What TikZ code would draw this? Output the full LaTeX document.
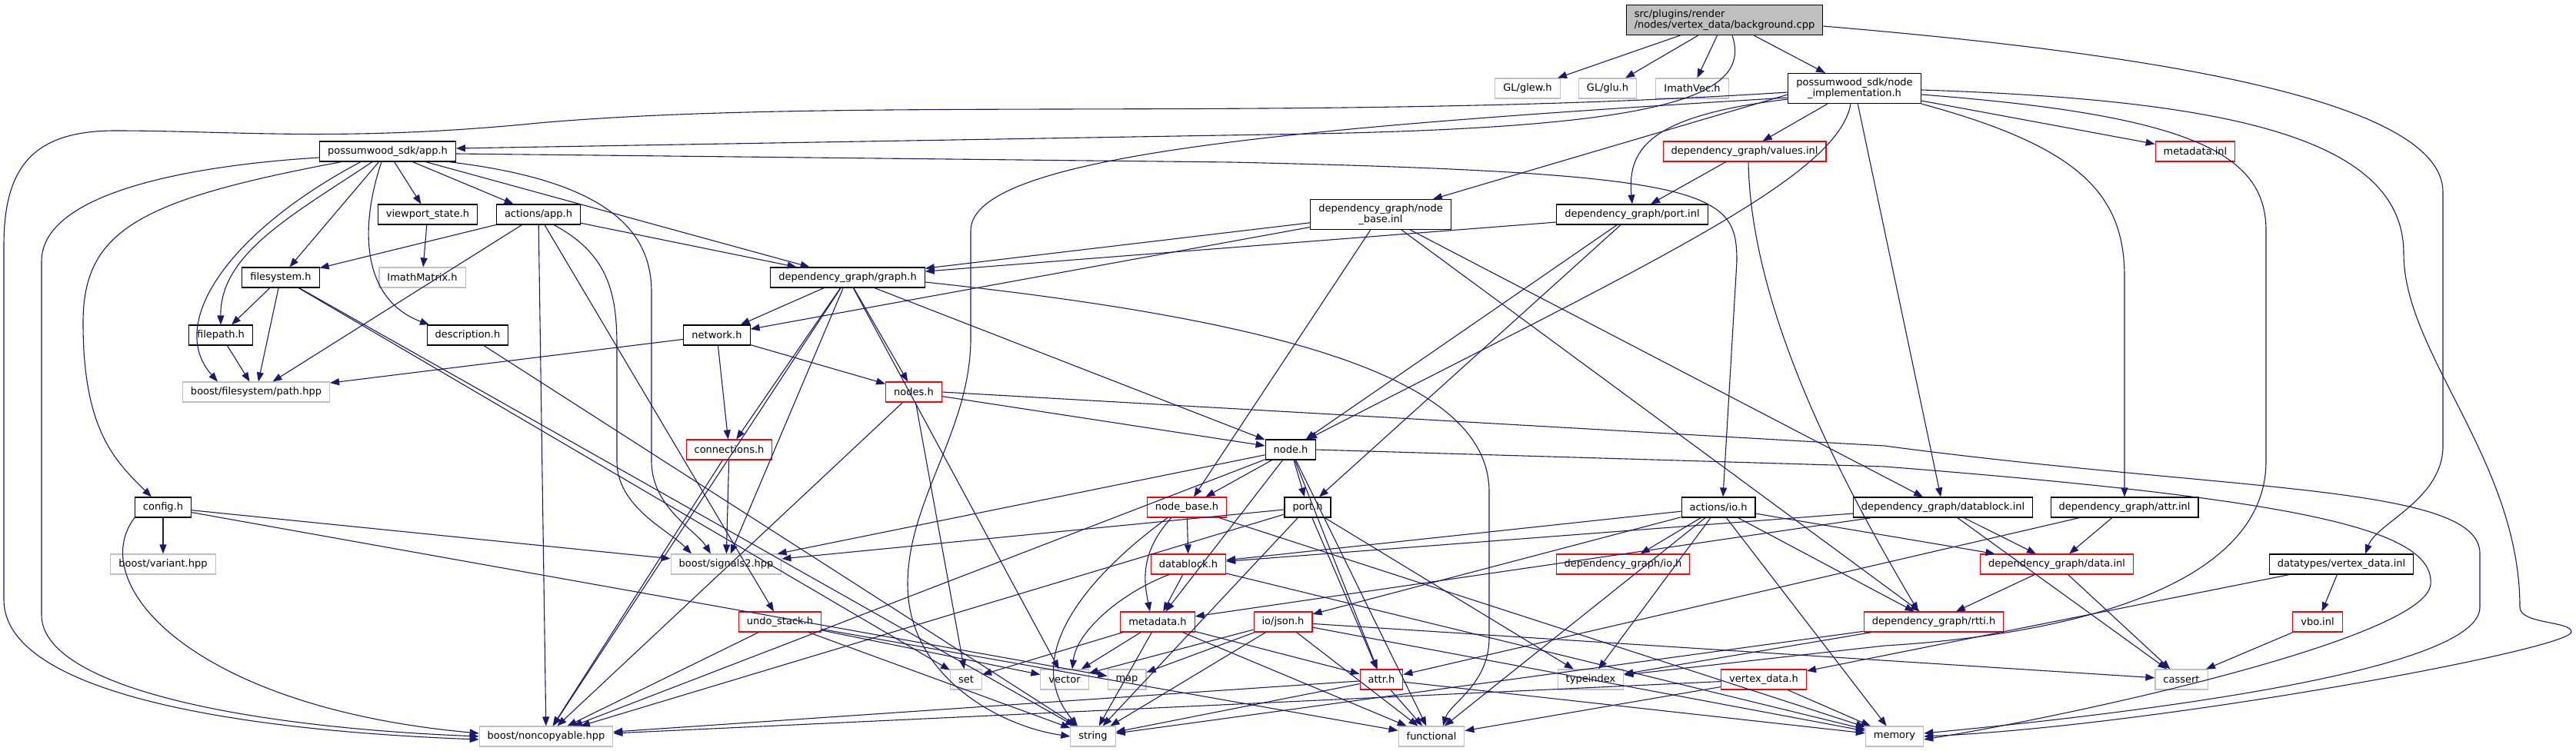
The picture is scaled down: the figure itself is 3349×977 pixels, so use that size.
\documentclass[tikz,border=0pt]{standalone}
\usepackage{fontspec}
\setmainfont{DejaVu Sans}
\usetikzlibrary{arrows.meta}
\definecolor{Edge}{HTML}{191970}
\definecolor{Frame}{HTML}{BFBFBF}
\definecolor{Trunc}{HTML}{FF0000}
\definecolor{MainFill}{HTML}{BFBFBF}

\begin{document}
\begin{tikzpicture}[x=1pt, y=-1pt, every node/.style={font=\fontsize{13}{14}\selectfont}]
        \tikzstyle{file}=[draw=black, fill=white, line width=1.1pt, inner xsep=10.5pt, inner ysep=6pt, minimum height=26pt, align=center]
        \tikzstyle{ext}=[file, draw=Frame]
        \tikzstyle{trunc}=[file, draw=Trunc]
        \tikzstyle{main}=[file, fill=MainFill, align=left]
        \tikzstyle{dep}=[draw=Edge, line width=1.1pt, -{Triangle[length=12pt, width=9pt]}]
        \useasboundingbox (0,0) rectangle (3349,977);
        \node[main] (bg) at (2242,26) {src/plugins/render\\/nodes/vertex\_data/background.cpp};
        \node[ext] (glew) at (1986,115) {GL/glew.h};
        \node[ext] (glu) at (2090,115) {GL/glu.h};
        \node[ext] (ivec) at (2200,115) {ImathVec.h};
        \node[file] (impl) at (2411,115) {possumwood\_sdk/node\\\_implementation.h};
        \node[file] (apph) at (504,197) {possumwood\_sdk/app.h};
        \node[trunc] (valinl) at (2268,197) {dependency\_graph/values.inl};
        \node[trunc] (mdinl) at (2854,197) {metadata.inl};
        \node[file] (vps) at (556,279) {viewport\_state.h};
        \node[file] (actapp) at (700,279) {actions/app.h};
        \node[file] (nbinl) at (1795,279) {dependency\_graph/node\\\_base.inl};
        \node[file] (portinl) at (2122,279) {dependency\_graph/port.inl};
        \node[file] (fsys) at (365,361) {filesystem.h};
        \node[ext] (imat) at (549,361) {ImathMatrix.h};
        \node[file] (graph) at (1102,361) {dependency\_graph/graph.h};
        \node[file] (fpath) at (287,436) {filepath.h};
        \node[file] (descr) at (608,436) {description.h};
        \node[file] (network) at (932,436) {network.h};
        \node[ext] (pathhpp) at (333,510) {boost/filesystem/path.hpp};
        \node[trunc] (nodes) at (1188,510) {nodes.h};
        \node[trunc] (conn) at (948,585) {connections.h};
        \node[file] (nodeh) at (1678,585) {node.h};
        \node[file] (config) at (212,660) {config.h};
        \node[trunc] (nbase) at (1543,660) {node\_base.h};
        \node[file] (porth) at (1700,660) {port.h};
        \node[file] (actio) at (2234,660) {actions/io.h};
        \node[file] (dbinl) at (2526,660) {dependency\_graph/datablock.inl};
        \node[file] (attrinl) at (2762,660) {dependency\_graph/attr.inl};
        \node[ext] (variant) at (212,734) {boost/variant.hpp};
        \node[ext] (sig) at (944,734) {boost/signals2.hpp};
        \node[trunc] (dblock) at (1545,734) {datablock.h};
        \node[trunc] (dgio) at (2110,734) {dependency\_graph/io.h};
        \node[trunc] (datainl) at (2674,734) {dependency\_graph/data.inl};
        \node[file] (vdinl) at (3044,734) {datatypes/vertex\_data.inl};
        \node[trunc] (undo) at (1014,809) {undo\_stack.h};
        \node[trunc] (meta) at (1505,809) {metadata.h};
        \node[trunc] (json) at (1668,809) {io/json.h};
        \node[trunc] (rtti) at (2514,809) {dependency\_graph/rtti.h};
        \node[trunc] (vbo) at (3013,809) {vbo.inl};
        \node[ext] (setn) at (1256,884) {set};
        \node[ext] (vec) at (1384,884) {vector};
        \node[ext] (mapn) at (1465,884) {map};
        \node[trunc] (attrh) at (1796,884) {attr.h};
        \node[ext] (tindex) at (2068,884) {typeindex};
        \node[trunc] (vdh) at (2293,884) {vertex\_data.h};
        \node[ext] (cassert) at (2836,884) {cassert};
        \node[ext] (noncp) at (710,958) {boost/noncopyable.hpp};
        \node[ext] (str) at (1421,958) {string};
        \node[ext] (func) at (1861,958) {functional};
        \node[ext] (mem) at (2463,958) {memory};
        \draw[dep] (bg) -- (glew);
        \draw[dep] (bg) -- (glu);
        \draw[dep] (bg) -- (ivec);
        \draw[dep] (bg) -- (impl);
        \draw[dep] ([yshift=-8pt]bg.east) .. controls (2800,70) and (3176,130) .. (3176,250) -- (3176,580) .. controls (3176,650) and (3090,680) .. ([xshift=31pt]vdinl.north);
        \draw[dep] ([xshift=10pt]bg.south) .. controls (2280,130) and (2150,168) .. (1650,175) -- ([yshift=4pt]apph.east);
        \draw[dep] ([yshift=-5pt]impl.west) .. controls (1700,160) and (1100,125) .. (700,160) .. controls (450,185) and (300,170) .. (150,170) .. controls (40,170) and (5,220) .. (5,320) -- (5,780) .. controls (5,900) and (300,950) .. ([yshift=-4pt]noncp.west);
        \draw[dep] ([yshift=-12pt]impl.west) .. controls (1700,165) and (1262,200) .. (1262,300) -- (1262,440) .. controls (1262,560) and (1180,650) .. (1180,760) .. controls (1180,880) and (1300,945) .. (str.west);
        \draw[dep] (impl) -- (valinl);
        \draw[dep] ([yshift=-14pt]impl.west) .. controls (2150,150) and (2115,190) .. (portinl.north);
        \draw[dep] ([yshift=-8pt]impl.west) -- (nbinl);
        \draw[dep] ([xshift=-5pt]impl.south) .. controls (2390,230) and (2150,340) .. ([xshift=22pt]nodeh.north);
        \draw[dep] (impl) -- (dbinl);
        \draw[dep] (impl.south east) .. controls (2700,190) and (2762,250) .. (2762,360) -- (attrinl.north);
        \draw[dep] (impl) -- (mdinl);
        \draw[dep] ([yshift=-2pt]impl.east) .. controls (2900,130) and (3125,180) .. (3125,330) .. controls (3125,460) and (3276,600) .. (3276,790) .. controls (3276,812) and (3343,808) .. (3343,822) .. controls (3343,845) and (2800,945) .. (mem.east);
        \draw[dep] ([yshift=-8pt]impl.east) .. controls (2850,150) and (2946,200) .. (2946,300) -- (2946,600) .. controls (2946,760) and (2700,825) .. (2450,840) -- ([yshift=6pt]tindex.east);
        \draw[dep] ([yshift=-8pt]apph.west) .. controls (250,215) and (54,250) .. (54,340) -- (54,800) .. controls (54,890) and (300,945) .. (noncp.west);
        \draw[dep] ([xshift=-60pt]apph.south) .. controls (180,260) and (108,300) .. (108,420) .. controls (108,560) and (150,600) .. ([xshift=-15pt]config.north);
        \draw[dep] ([xshift=-35pt]apph.south) .. controls (300,300) and (215,420) .. ([xshift=-50pt]pathhpp.north);
        \draw[dep] ([xshift=-20pt]apph.south) .. controls (380,280) and (286,330) .. (fpath.north);
        \draw[dep] (apph) -- (fsys);
        \draw[dep] ([xshift=-8pt]apph.south) .. controls (466,300) and (472,390) .. ([xshift=-50pt]descr.north);
        \draw[dep] (apph) -- (vps);
        \draw[dep] (apph) -- (actapp);
        \draw[dep] (apph) -- (graph);
        \draw[dep] ([yshift=-3pt]apph.east) -- (1600,211) .. controls (2230,225) and (2258,250) .. (2258,340) -- ([xshift=6pt]actio.north);
        \draw[dep] ([xshift=-10pt]apph.south east) .. controls (790,235) and (847,300) .. (847,380) -- (847,600) .. controls (847,660) and (905,690) .. ([xshift=-20pt]sig.north);
        \draw[dep] (vps) -- (imat);
        \draw[dep] (actapp) -- (fsys);
        \draw[dep] (actapp) -- (pathhpp);
        \draw[dep] (actapp) -- (graph);
        \draw[dep] (actapp) -- (noncp);
        \draw[dep] ([xshift=20pt]actapp.south) .. controls (790,330) and (802,380) .. (802,450) -- (802,600) .. controls (802,660) and (870,690) .. ([xshift=-45pt]sig.north);
        \draw[dep] (actapp) -- (undo);
        \draw[dep] (fsys) -- (fpath);
        \draw[dep] (fsys) -- (pathhpp);
        \draw[dep] (fsys) -- (str);
        \draw[dep] (fsys) -- (setn);
        \draw[dep] (fpath) -- (pathhpp);
        \draw[dep] (descr) -- (str);
        \draw[dep] (config) -- (variant);
        \draw[dep] (config.south west) .. controls (110,760) and (250,920) .. ([yshift=4pt]noncp.west);
        \draw[dep] (config) -- (sig);
        \draw[dep] (config) -- (mapn);
        \draw[dep] (graph) -- (network);
        \draw[dep] (graph) -- (nodes);
        \draw[dep] (graph) -- (conn);
        \draw[dep] (graph) -- (nodeh);
        \draw[dep] (graph) -- (sig);
        \draw[dep] (graph) -- (noncp);
        \draw[dep] (graph) -- (vec);
        \draw[dep] ([yshift=-6pt]graph.east) .. controls (1700,420) and (1936,500) .. (1936,640) -- (1936,830) .. controls (1936,890) and (1885,915) .. ([xshift=15pt]func.north);
        \draw[dep] (network) -- (pathhpp);
        \draw[dep] (network) -- (nodes);
        \draw[dep] (network) -- (conn);
        \draw[dep] (nodes) -- (nodeh);
        \draw[dep] (nodes) -- (noncp);
        \draw[dep] (nodes) -- (setn);
        \draw[dep] (nodes.east) -- (2450,580) .. controls (2900,640) and (3224,630) .. (3224,720) -- (3224,790) .. controls (3224,880) and (2700,935) .. ([yshift=4pt]mem.east);
        \draw[dep] (conn) -- (sig);
        \draw[dep] (conn) -- (noncp);
        \draw[dep] (nodeh) -- (porth);
        \draw[dep] (nodeh) -- (nbase);
        \draw[dep] (nodeh) -- (sig);
        \draw[dep] (nodeh) -- (noncp);
        \draw[dep] (nodeh) -- (meta);
        \draw[dep] (nodeh) -- (attrh);
        \draw[dep] (nodeh) -- (func);
        \draw[dep] (nodeh.east) -- (2450,607) .. controls (3000,650) and (3165,690) .. (3160,760) .. controls (3155,830) and (2700,930) .. ([yshift=-4pt]mem.east);
        \draw[dep] (porth) -- (attrh);
        \draw[dep] (porth) -- (sig);
        \draw[dep] (porth) -- (noncp);
        \draw[dep] (porth) -- (str);
        \draw[dep] (porth) -- (tindex);
        \draw[dep] (nbase) -- (dblock);
        \draw[dep] ([xshift=-20pt]nbase.south) .. controls (1480,720) and (1488,760) .. ([xshift=-10pt]meta.north);
        \draw[dep] ([xshift=-25pt]nbase.south) .. controls (1400,760) and (1330,860) .. ([xshift=-20pt]str.north);
        \draw[dep] (nbase) -- (mem);
        \draw[dep] (dblock) -- (meta);
        \draw[dep] ([xshift=-25pt]dblock.south) .. controls (1460,770) and (1400,820) .. ([xshift=10pt]vec.north);
        \draw[dep] (dblock) -- (mem);
        \draw[dep] (meta) -- (setn);
        \draw[dep] (meta) -- (vec);
        \draw[dep] (meta) -- (str);
        \draw[dep] (meta) -- (attrh);
        \draw[dep] (meta) -- (func);
        \draw[dep] (undo) -- (vec);
        \draw[dep] (undo) -- (str);
        \draw[dep] (undo) -- (noncp);
        \draw[dep] (undo) -- (func);
        \draw[dep] (json) -- (vec);
        \draw[dep] (json) -- (mapn);
        \draw[dep] (json) -- (str);
        \draw[dep] (json) -- (func);
        \draw[dep] (json) -- (cassert);
        \draw[dep] (json) -- (mem);
        \draw[dep] (attrh) -- (noncp);
        \draw[dep] (attrh) -- (str);
        \draw[dep] (attrh) -- (func);
        \draw[dep] (attrh) -- (mem);
        \draw[dep] (actio) -- (dgio);
        \draw[dep] (actio) -- (dblock);
        \draw[dep] (actio) -- (json);
        \draw[dep] (actio) -- (func);
        \draw[dep] (actio) -- (tindex);
        \draw[dep] (actio) -- (rtti);
        \draw[dep] (actio) -- (datainl);
        \draw[dep] (actio) -- (mem);
        \draw[dep] ([yshift=-8pt]dbinl.west) -- (dblock);
        \draw[dep] (dbinl) -- (meta);
        \draw[dep] (dbinl) -- (datainl);
        \draw[dep] (dbinl) -- (cassert);
        \draw[dep] (attrinl) -- (datainl);
        \draw[dep] (attrinl) -- (attrh);
        \draw[dep] (datainl) -- (rtti);
        \draw[dep] (datainl) -- (cassert);
        \draw[dep] (rtti) -- (tindex);
        \draw[dep] (rtti) -- (str);
        \draw[dep] (valinl) -- (portinl);
        \draw[dep] ([xshift=5pt]valinl.south) .. controls (2276,400) and (2390,620) .. ([xshift=-20pt]rtti.north);
        \draw[dep] (nbinl) -- (graph);
        \draw[dep] (nbinl) -- (network);
        \draw[dep] (nbinl) -- (nbase);
        \draw[dep] (nbinl) -- (dbinl);
        \draw[dep] (nbinl) -- (rtti);
        \draw[dep] ([yshift=-10pt]portinl.west) -- (graph);
        \draw[dep] (portinl) -- (nodeh);
        \draw[dep] (portinl) -- (porth);
        \draw[dep] (vdinl) -- (vbo);
        \draw[dep] (vdinl) -- (vdh);
        \draw[dep] (vbo) -- (cassert);
        \draw[dep] (vdh) -- (func);
        \draw[dep] (vdh) -- (mem);
        \draw[dep] (vdh) -- (noncp);
      \end{tikzpicture}
\end{document}
